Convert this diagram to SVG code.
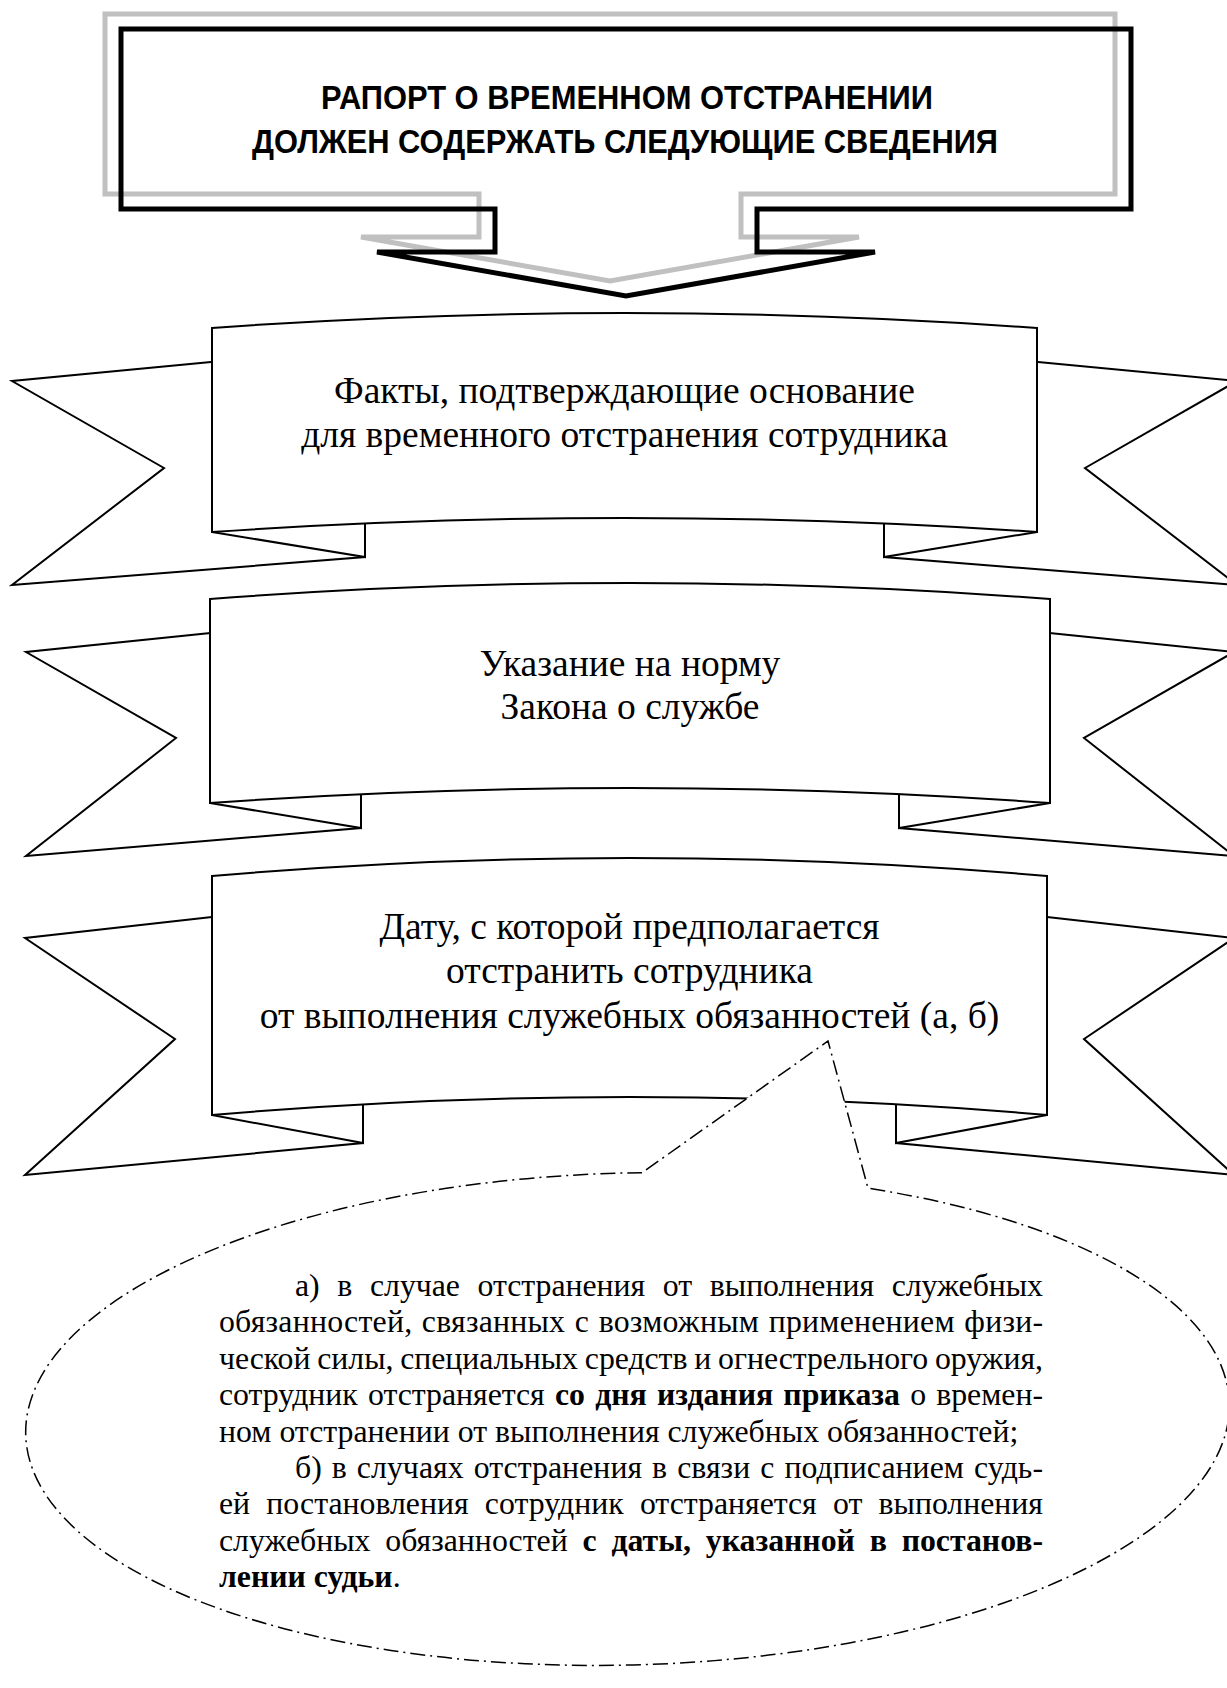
<svg xmlns="http://www.w3.org/2000/svg" width="1227" height="1688" viewBox="0 0 1227 1688">
<style>
.rib{fill:#fff;stroke:#000;stroke-width:2;stroke-linejoin:miter}
.rt{font-family:"Liberation Serif","Times New Roman",serif;font-size:37.5px;text-anchor:middle;fill:#000}
.bt{font-family:"Liberation Serif","Times New Roman",serif;font-size:31.8px;fill:#000}
.b{font-weight:bold}
.hdr{font-family:"Liberation Sans",Arial,sans-serif;font-weight:bold;font-size:34px;text-anchor:middle;fill:#000}
.shadow{fill:none;stroke:#c0c0c0;stroke-width:5;stroke-linejoin:miter}
.frame{fill:none;stroke:#000;stroke-width:5;stroke-linejoin:miter}
.bubble{fill:#fff;stroke:#000;stroke-width:1.5;stroke-dasharray:15 5 2 5}
</style>
<rect width="1227" height="1688" fill="#fff"/>
<g id="header">
<polygon class="shadow" points="105,14 1115,14 1115,194 741,194 741,237 859,237 610,281 361,237 479,237 479,194 105,194"/>
<polygon class="frame" points="121,29 1131,29 1131,209 757,209 757,252 875,252 626,296 377,252 495,252 495,209 121,209"/>
<text class="hdr" x="627" y="109" textLength="612" lengthAdjust="spacingAndGlyphs">РАПОРТ О ВРЕМЕННОМ ОТСТРАНЕНИИ</text>
<text class="hdr" x="625" y="153" textLength="746" lengthAdjust="spacingAndGlyphs">ДОЛЖЕН СОДЕРЖАТЬ СЛЕДУЮЩИЕ СВЕДЕНИЯ</text>
</g>
<g id="ribbon1">
<polygon class="rib" points="232,360.1 12,381 164,468 12,585 365,557 365,500"/>
<polygon class="rib" points="1017,360.1 1237,381 1085,468 1237,585 884,557 884,500"/>
<polygon class="rib" points="212,532 365,557 365,510"/>
<polygon class="rib" points="1037,532 884,557 884,510"/>
<path class="rib" d="M212,328 Q624.5,298 1037,328 L1037,532 Q624.5,504 212,532 Z"/>
<text class="rt" x="624.5" y="403">Факты, подтверждающие основание</text>
<text class="rt" x="624.5" y="447">для временного отстранения сотрудника</text>
</g>
<g id="ribbon2">
<polygon class="rib" points="230,630.9 26,652 176,738 26,856 361,828 361,770"/>
<polygon class="rib" points="1030,630.9 1234,652 1084,738 1234,856 899,828 899,770"/>
<polygon class="rib" points="210,803 361,828 361,780"/>
<polygon class="rib" points="1050,803 899,828 899,780"/>
<path class="rib" d="M210,599 Q630,567 1050,599 L1050,803 Q630,773 210,803 Z"/>
<text class="rt" x="630" y="676">Указание на норму</text>
<text class="rt" x="630" y="719">Закона о службе</text>
</g>
<g id="ribbon3">
<polygon class="rib" points="232,914.75 25,938 175,1039 25,1175 363,1143 363,1080"/>
<polygon class="rib" points="1027,914.75 1234,938 1084,1039 1234,1175 896,1143 896,1080"/>
<polygon class="rib" points="212,1115 363,1143 363,1090"/>
<polygon class="rib" points="1047,1115 896,1143 896,1090"/>
<path class="rib" d="M212,876 Q629.5,840 1047,876 L1047,1115 Q629.5,1079 212,1115 Z"/>
<text class="rt" x="629.5" y="939">Дату, с которой предполагается</text>
<text class="rt" x="629.5" y="983">отстранить сотрудника</text>
<text class="rt" x="629.5" y="1028">от выполнения служебных обязанностей (а, б)</text>
</g>
<g id="callout">
<path class="bubble" d="M642,1172.7 A602,246 -1.5 1 0 868,1188.2 L828,1041 Z"/>
<text class="bt" x="295" y="1296" word-spacing="9.8" textLength="748" lengthAdjust="spacing">а) в случае отстранения от выполнения служебных</text>
<text class="bt" x="219" y="1332.4" word-spacing="1.4" textLength="824" lengthAdjust="spacing">обязанностей, связанных с возможным применением физи-</text>
<text class="bt" x="219" y="1368.8" word-spacing="-1" textLength="824" lengthAdjust="spacing">ческой силы, специальных средств и огнестрельного оружия,</text>
<text class="bt" x="219" y="1405.2" word-spacing="2.3" textLength="824" lengthAdjust="spacing">сотрудник отстраняется <tspan class="b">со дня издания приказа</tspan> о времен-</text>
<text class="bt" x="219" y="1441.6">ном отстранении от выполнения служебных обязанностей;</text>
<text class="bt" x="295" y="1478" word-spacing="2" textLength="748" lengthAdjust="spacing">б) в случаях отстранения в связи с подписанием судь-</text>
<text class="bt" x="219" y="1514.4" word-spacing="8.3" textLength="824" lengthAdjust="spacing">ей постановления сотрудник отстраняется от выполнения</text>
<text class="bt" x="219" y="1550.8" word-spacing="6.9" textLength="824" lengthAdjust="spacing">служебных обязанностей <tspan class="b">с даты, указанной в постанов-</tspan></text>
<text class="bt" x="219" y="1587.2"><tspan class="b">лении судьи</tspan>.</text>
</g>
</svg>
